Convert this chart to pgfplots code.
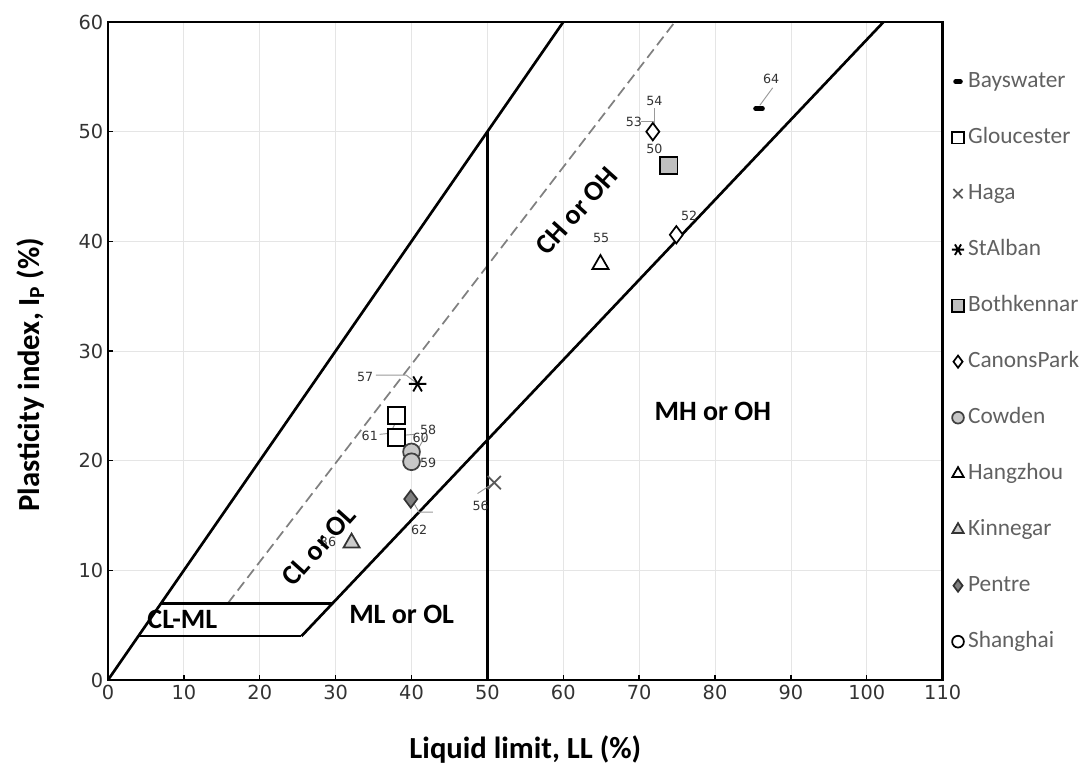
\documentclass[border=0pt]{standalone}
\usepackage{fontspec}
\setmainfont{Carlito}
\newfontfamily\dv{DejaVu Sans}
\usepackage{pgfplots}
\pgfplotsset{compat=1.18}
\usetikzlibrary{calc}

\begin{document}
\begin{tikzpicture}
\begin{axis}[name=ax, scale only axis, width=626pt, height=493.5pt,
  xmin=0, xmax=110, ymin=0, ymax=60,
  xtick={0,10,...,110}, ytick={0,10,...,60},
  xtick pos=left, ytick pos=left, tick align=inside,
  major tick length=4pt, tick style={black, line width=1pt},
  grid=major, major grid style={black!10, line width=0.6pt},
  axis line style={line width=1.8pt},
  /pgf/number format/assume math mode=true,
  ticklabel style={font=\dv\fontsize{14.5}{14.5}\selectfont, text=black!80},
  xlabel={\bfseries Liquid limit, LL (\%)},
  ylabel={\bfseries Plasticity index, I\textsubscript{P} (\%)},
  xlabel style={at={(axis description cs:0.5,-0.106)}, anchor=center, font=\fontsize{23}{23}\selectfont},
  ylabel style={at={(axis description cs:-0.093,0.464)}, anchor=center, rotate=0, font=\fontsize{23}{23}\selectfont},
  legend style={at={(axis description cs:1.006,0.93)}, anchor=north west, draw=none, fill=none,
    font=\fontsize{17.5}{17.5}\selectfont, text=black!62, row sep=26pt,
    nodes={text height=11pt, text depth=3pt, inner sep=1pt},
    /tikz/every odd column/.append style={column sep=2pt}},
  legend cell align=left,
  legend image post style={/tikz/every mark/.append style={scale=0.7}},
]
% classification lines
\addplot[black, line width=2pt, forget plot] coordinates {(0,0)(60,60)};
\addplot[black!50, line width=1.3pt, dash pattern=on 8pt off 4pt, forget plot] coordinates {(15.8,7)(74.7,60)};
\addplot[black, line width=2pt, forget plot] coordinates {(25.5,4)(102.2,60)};
\addplot[black, line width=2pt, forget plot] coordinates {(7,7)(29.6,7)};
\addplot[black, line width=2pt, forget plot] coordinates {(4,4)(25.5,4)};
\addplot[black, line width=2pt, forget plot] coordinates {(50,0)(50,50)};

% leader lines
\addplot[black!40, line width=0.7pt, forget plot] coordinates {(85.9,52.4)(87.6,54.0)};
\addplot[black!40, line width=0.7pt, forget plot] coordinates {(72,50.2)(72,52.2)};
\addplot[black!40, line width=0.7pt, forget plot] coordinates {(70.3,50.9)(71.9,50.9)};
\addplot[black!40, line width=0.7pt, forget plot] coordinates {(35.3,27.8)(39.3,27.8)(40.8,27)};
\addplot[black!40, line width=0.7pt, forget plot] coordinates {(35.8,22.4)(37.2,22.5)(38.5,24.3)};
\addplot[black!40, line width=0.7pt, forget plot] coordinates {(38.6,22.3)(40.4,22.4)};
\addplot[black!40, line width=0.7pt, forget plot] coordinates {(40.8,21)(41.8,22.2)};
\addplot[black!40, line width=0.7pt, forget plot] coordinates {(40,16.5)(41,15.3)(42.8,15.3)};
\addplot[black!40, line width=0.7pt, forget plot] coordinates {(48.7,17.0)(50.9,18)};

% data
\addplot[only marks, mark=-, mark size=2.6pt, mark options={line width=3.5pt, line cap=round, black}] coordinates {(85.8,52.1)};
\addlegendentry{Bayswater}
\addplot[only marks, mark=square*, mark size=6.3pt, mark options={fill=white, draw=black, line width=1.3pt}] coordinates {(38,24.1)(38,22.1)};
\addlegendentry{Gloucester}
\addplot[only marks, mark=x, mark size=7pt, mark options={draw=black!65, line width=1.3pt}] coordinates {(50.9,18)};
\addlegendentry{Haga}
\addplot[only marks, mark=asterisk, mark size=6.5pt, mark options={draw=black, line width=1.4pt, rotate=90}] coordinates {(40.8,27)};
\addlegendentry{StAlban}
\addplot[only marks, mark=square*, mark size=6.5pt, mark options={fill=black!25, draw=black, line width=1.3pt}] coordinates {(73.9,46.9)};
\addlegendentry{Bothkennar}
\addplot[only marks, mark=diamond*, mark size=6.5pt, mark options={fill=white, draw=black, line width=1.3pt}] coordinates {(71.8,50.0)(74.9,40.6)};
\addlegendentry{CanonsPark}
\addplot[only marks, mark=*, mark size=6.3pt, mark options={fill=black!22, draw=black!75, line width=1.3pt}] coordinates {(40,20.8)(40,19.9)};
\addlegendentry{Cowden}
\addplot[only marks, mark=triangle*, mark size=7pt, mark options={fill=white, draw=black, line width=1.3pt}] coordinates {(64.9,37.9)};
\addlegendentry{Hangzhou}
\addplot[only marks, mark=triangle*, mark size=7pt, mark options={fill=black!20, draw=black!80, line width=1.3pt}] coordinates {(32.1,12.5)};
\addlegendentry{Kinnegar}
\addplot[only marks, mark=diamond*, mark size=6.5pt, mark options={fill=black!50, draw=black!80, line width=1.3pt}] coordinates {(39.9,16.5)};
\addlegendentry{Pentre}
\addlegendimage{only marks, mark=*, mark size=6.3pt, mark options={fill=white, draw=black, line width=1.3pt}}
\addlegendentry{Shanghai}

% data labels
\begin{scope}[every node/.style={font=\dv\fontsize{9.5}{9.5}\selectfont, text=black!80, inner sep=0.5pt}]
\node at (axis cs:87.4,54.8) {64};
\node at (axis cs:72,52.8) {54};
\node at (axis cs:69.3,50.9) {53};
\node at (axis cs:72,48.4) {50};
\node at (axis cs:76.6,42.3) {52};
\node at (axis cs:65,40.3) {55};
\node at (axis cs:33.9,27.6) {57};
\node at (axis cs:34.5,22.3) {61};
\node at (axis cs:41.2,22.1) {60};
\node at (axis cs:42.2,22.8) {58};
\node at (axis cs:42.2,19.8) {59};
\node at (axis cs:41,13.7) {62};
\node at (axis cs:49.1,15.9) {56};
\node at (axis cs:29.0,12.6) {36};
\end{scope}

% region labels
\begin{scope}[every node/.style={font=\bfseries\fontsize{21}{21}\selectfont}]
\node[rotate=48] at (axis cs:61.8,42.8) {CH or OH};
\node at (axis cs:79.7,24.5) {MH or OH};
\node at (axis cs:38.7,6.0) {ML or OL};
\node[rotate=48] at (axis cs:27.8,12.2) {CL or OL};
\node at (axis cs:9.8,5.5) {CL-ML};
\end{scope}
\end{axis}
\pgfresetboundingbox
\path[use as bounding box] ($(ax.south west)+(-81pt,-70.5pt)$) rectangle +(816pt,580.5pt);
\end{tikzpicture}
\end{document}
